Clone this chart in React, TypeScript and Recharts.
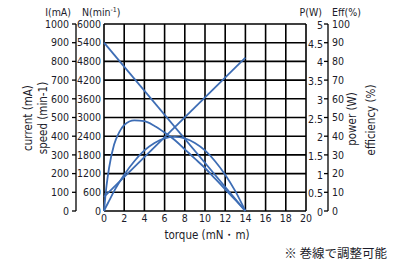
import React from 'react';
import { LineChart, Line, XAxis, YAxis, CartesianGrid } from 'recharts';

// torque (mN·m) sample points for the curves
const torque = [0, 0.25, 0.5, 1, 1.5, 2, 3, 4, 5, 6, 7, 8, 9, 10, 11, 12, 13, 14];
const powerW = [0, 0.14, 0.27, 0.53, 0.76, 0.97, 1.33, 1.62, 1.82, 1.94, 1.98, 1.94, 1.82, 1.62, 1.33, 0.97, 0.53, 0];
const efficiency = [0, 13.5, 23, 35.5, 42, 46, 48.5, 48, 45.5, 42, 38, 33, 28, 23, 17.3, 11.6, 5.9, 0];

// straight lines: end points
const lineTorque = [0, 14];
const speed = [5400, 0];
const current = [75, 820];

const xTicks = [0, 2, 4, 6, 8, 10, 12, 14, 16, 18, 20];
const currentTicks = [0, 100, 200, 300, 400, 500, 600, 700, 800, 900, 1000];
const speedTicks = [0, 600, 1200, 1800, 2400, 3000, 3600, 4200, 4800, 5400, 6000];
const powerTicks = [0, 0.5, 1, 1.5, 2, 2.5, 3, 3.5, 4, 4.5, 5];
const effTicks = [0, 10, 20, 30, 40, 50, 60, 70, 80, 90, 100];

const FONT = '"Liberation Sans Narrow", "DejaVu Sans Condensed", "Liberation Sans", sans-serif';
const TXT = '#1c1c2a';
const BLUE = '#3d6db5';

const pts = (xs: number[], ys: number[]) => xs.map((t, i) => ({ t, v: ys[i] }));

const tickStyle = { fontSize: 10.5, fontFamily: FONT, fill: TXT };

// power labels: right-aligned, ending just before the efficiency axis line
const PowerTick = (props: any) => {
  const { x, y, payload } = props;
  return (
    <text x={x + 17} y={y + 1} textAnchor="end" dominantBaseline="central" style={tickStyle}>
      {payload.value}
    </text>
  );
};

// axis ids: the one sorting first sits next to the plot
export default function App() {
  return (
    <div style={{ position: 'absolute', left: 0, top: 0, width: 400, height: 265, background: '#fff' }}>
      <LineChart width={400} height={265} margin={{ top: 24, right: 42, bottom: 34, left: 36 }}>
        <CartesianGrid yAxisId="a_speed" stroke="#000" strokeWidth={1.6} ticks={speedTicks} />
        <XAxis dataKey="t" type="number" domain={[0, 20]} ticks={xTicks} interval={0}
          axisLine={false} tickLine={false} tickSize={0} tickMargin={4} height={20} tick={tickStyle} />
        <YAxis yAxisId="a_speed" orientation="left" domain={[0, 6000]} ticks={speedTicks} interval={0}
          width={28} axisLine={false} tickLine={false} tickSize={0} tickMargin={3} tick={tickStyle} />
        <YAxis yAxisId="b_current" orientation="left" domain={[0, 1000]} ticks={currentTicks} interval={0}
          width={40} axisLine={{ stroke: '#000', strokeWidth: 1.3 }} tickLine={{ stroke: '#000', strokeWidth: 1.3 }}
          tickSize={4} tickMargin={3} tick={tickStyle} />
        <YAxis yAxisId="a_power" orientation="right" domain={[0, 5]} ticks={powerTicks} interval={0}
          width={22} axisLine={false} tickLine={false} tickSize={0} tickMargin={0} tick={<PowerTick />} />
        <YAxis yAxisId="b_eff" orientation="right" domain={[0, 100]} ticks={effTicks} interval={0}
          width={30} axisLine={{ stroke: '#000', strokeWidth: 1.3 }} tickLine={{ stroke: '#000', strokeWidth: 1.3 }}
          tickSize={-4} tickMargin={8} tick={tickStyle} />

        <Line yAxisId="a_speed" data={pts(lineTorque, speed)} dataKey="v" type="linear" stroke={BLUE}
          strokeWidth={1.8} dot={false} isAnimationActive={false} />
        <Line yAxisId="b_current" data={pts(lineTorque, current)} dataKey="v" type="linear" stroke={BLUE}
          strokeWidth={1.8} dot={false} isAnimationActive={false} />
        <Line yAxisId="a_power" data={pts(torque, powerW)} dataKey="v" type="monotone" stroke={BLUE}
          strokeWidth={1.8} dot={false} isAnimationActive={false} />
        <Line yAxisId="b_eff" data={pts(torque, efficiency)} dataKey="v" type="monotone" stroke={BLUE}
          strokeWidth={1.8} dot={false} isAnimationActive={false} />
      </LineChart>

      <svg width={400} height={265} style={{ position: 'absolute', left: 0, top: 0, pointerEvents: 'none' }}>
        <g style={{ fontFamily: FONT, fill: TXT }}>
          <text x={71} y={15.5} textAnchor="end" fontSize={10.5}>I(mA)</text>
          <text x={82} y={15.5} fontSize={10.5}>N(min<tspan fontSize={7} dy={-4}>-1</tspan><tspan dy={4}>)</tspan></text>
          <text x={322} y={15.5} textAnchor="end" fontSize={10.5}>P(W)</text>
          <text x={332} y={15.5} fontSize={10.5}>Eff(%)</text>

          <text x={28} y={118} fontSize={11.5} textAnchor="middle" dominantBaseline="central"
            transform="rotate(-90 28 118)">current (mA)</text>
          <text x={43} y={118} fontSize={11.5} textAnchor="middle" dominantBaseline="central"
            transform="rotate(-90 43 118)">speed (min-1)</text>
          <text x={352} y={119} fontSize={11.5} textAnchor="middle" dominantBaseline="central"
            transform="rotate(-90 352 119)">power (W)</text>
          <text x={371} y={120} fontSize={11.5} textAnchor="middle" dominantBaseline="central"
            transform="rotate(-90 371 120)">efficiency (%)</text>

          <text x={207} y={235} fontSize={11.5} textAnchor="middle" dominantBaseline="central">torque (mN・m)</text>
        </g>
        <text x={387} y={252} fontSize={12.5} textAnchor="end" dominantBaseline="central"
          style={{ fontFamily: '"Noto Sans CJK JP", sans-serif', fill: TXT }}>※ 巻線で調整可能</text>
      </svg>
    </div>
  );
}
